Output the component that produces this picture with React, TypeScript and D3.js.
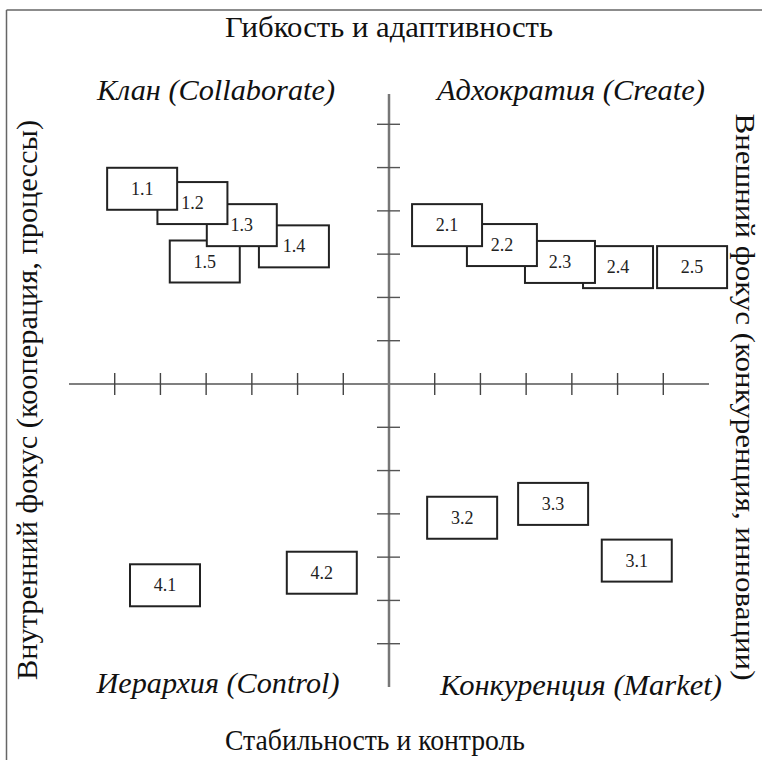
import React from "react";
import * as d3 from "d3";

const boxLabels = ["1.1", "1.2", "1.3", "1.4", "1.5", "2.1", "2.2", "2.3", "2.4", "2.5", "3.1", "3.2", "3.3", "4.1", "4.2"];
const boxX = [-5.4, -4.3, -3.22, -2.08, -4.03, 1.27, 2.47, 3.74, 5.01, 6.63, 5.42, 1.6, 3.59, -4.9, -1.47];
const boxY = [4.51, 4.18, 3.67, 3.18, 2.83, 3.67, 3.21, 2.82, 2.7, 2.7, -4.08, -3.09, -2.77, -4.65, -4.36];
const tickValues = [-6, -5, -4, -3, -2, -1, 1, 2, 3, 4, 5, 6];
const quadrantTitles = ["Клан (Collaborate)", "Адхократия (Create)", "Иерархия (Control)", "Конкуренция (Market)"];
const axisTitles = ["Гибкость и адаптивность", "Стабильность и контроль", "Внутренний фокус (кооперация, процессы)", "Внешний фокус (конкуренция, инновации)"];

const W = 762;
const H = 760;
const serif = "Liberation Serif, Times New Roman, DejaVu Serif, serif";

export default function App() {
  const x = d3.scaleLinear().domain([-7, 7]).range([69, 709]);
  const y = d3.scaleLinear().domain([-7, 7]).range([687, 81]);
  const bw = 70;
  const bh = 42;
  const order = d3.range(boxLabels.length).reverse();

  const tStyle = { fontFamily: serif, fill: "#111" } as React.CSSProperties;
  const iStyle = { fontFamily: serif, fontStyle: "italic", fill: "#111" } as React.CSSProperties;

  return (
    <svg width={W} height={H} style={{ position: "absolute", left: 0, top: 0, background: "#fff" }}>
      <rect x={0} y={0} width={W} height={H} fill="#fff" />
      {/* frame */}
      <line x1={6.5} y1={10} x2={W} y2={10} stroke="#666" strokeWidth={1.5} />
      <line x1={6.5} y1={10} x2={6.5} y2={H} stroke="#666" strokeWidth={1.5} />

      {/* axes */}
      <line x1={x(-7)} y1={y(0)} x2={x(7)} y2={y(0)} stroke="#555" strokeWidth={1.5} />
      <line x1={x(0)} y1={y(6.7)} x2={x(0)} y2={y(-7)} stroke="#777" strokeWidth={2.5} />
      {tickValues.map((t) => (
        <line key={"xt" + t} x1={x(t)} y1={y(0) - 11} x2={x(t)} y2={y(0) + 11} stroke="#444" strokeWidth={1.4} />
      ))}
      {tickValues.map((t) => (
        <line key={"yt" + t} x1={x(0) - 12} y1={y(t)} x2={x(0) + 11} y2={y(t)} stroke="#555" strokeWidth={1.4} />
      ))}

      {/* boxes */}
      {order.map((i) => (
        <g key={boxLabels[i]}>
          <rect x={x(boxX[i]) - bw / 2} y={y(boxY[i]) - bh / 2} width={bw} height={bh} fill="#fff" stroke="#222" strokeWidth={2} />
          <text x={x(boxX[i])} y={y(boxY[i]) + 6} textAnchor="middle" style={{ fontFamily: serif, fontSize: 18, fill: "#222" }}>
            {boxLabels[i]}
          </text>
        </g>
      ))}

      {/* quadrant titles */}
      <text x={216} y={100} textAnchor="middle" textLength={238} lengthAdjust="spacingAndGlyphs" style={{ ...iStyle, fontSize: 29 }}>{quadrantTitles[0]}</text>
      <text x={571} y={100} textAnchor="middle" textLength={268} lengthAdjust="spacingAndGlyphs" style={{ ...iStyle, fontSize: 29 }}>{quadrantTitles[1]}</text>
      <text x={218} y={693} textAnchor="middle" textLength={243} lengthAdjust="spacingAndGlyphs" style={{ ...iStyle, fontSize: 29 }}>{quadrantTitles[2]}</text>
      <text x={581} y={695} textAnchor="middle" textLength={282} lengthAdjust="spacingAndGlyphs" style={{ ...iStyle, fontSize: 29 }}>{quadrantTitles[3]}</text>

      {/* axis titles */}
      <text x={389} y={37} textAnchor="middle" textLength={328} lengthAdjust="spacingAndGlyphs" style={{ ...tStyle, fontSize: 30 }}>{axisTitles[0]}</text>
      <text x={375} y={750} textAnchor="middle" textLength={300} lengthAdjust="spacingAndGlyphs" style={{ ...tStyle, fontSize: 30 }}>{axisTitles[1]}</text>
      <text transform={`translate(37,400) rotate(-90)`} textAnchor="middle" textLength={560} lengthAdjust="spacingAndGlyphs" style={{ ...tStyle, fontSize: 30 }}>{axisTitles[2]}</text>
      <text transform={`translate(736,397) rotate(90)`} textAnchor="middle" textLength={567} lengthAdjust="spacingAndGlyphs" style={{ ...tStyle, fontSize: 28 }}>{axisTitles[3]}</text>
    </svg>
  );
}
